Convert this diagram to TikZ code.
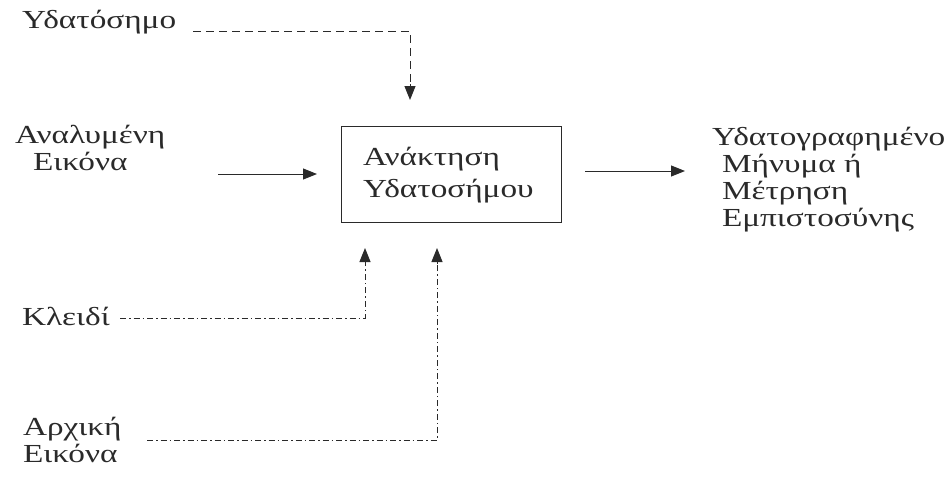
\documentclass[tikz,border=0pt]{standalone}
\usepackage{fontspec}
\setmainfont{Liberation Serif}[FakeStretch=1.28]
\usetikzlibrary{arrows.meta}
\definecolor{ink}{HTML}{2A2A2A}
\tikzset{
  lbl/.style={inner sep=0pt, outer sep=0pt, text=ink, font=\fontsize{26}{27}\selectfont, align=left},
  procbox/.style={draw=ink, line width=1.2pt, minimum width=220pt, minimum height=96pt, inner sep=0pt},
  tip/.style={-{Triangle[length=14pt,width=11pt]}},
  solidln/.style={draw=ink, fill=ink, line width=1pt, tip},
  headln/.style={draw=ink, fill=ink, line width=1pt, tip},
  dashln/.style={draw=ink, line width=1pt, dash pattern=on 8pt off 5pt},
  dotdash/.style={draw=ink, line width=1pt, dash pattern=on 6pt off 3pt on 1.5pt off 3pt},
}
\begin{document}
\begin{tikzpicture}[x=1pt,y=-1pt]
\useasboundingbox (0,0) rectangle (949,479);
% nodes
\node[lbl, anchor=base west] (wm) at (22,28) {Υδατόσημο};
\node[lbl, anchor=base west] (img) at (15,170) {Αναλυμένη\\\hspace*{18pt}Εικόνα};
\node[procbox, anchor=north west] (box) at (341,126) {};
\node[lbl, anchor=base west, font=\fontsize{26}{32}\selectfont] (boxtxt) at (363,197) {Ανάκτηση\\Υδατοσήμου};
\node[lbl, anchor=base west] (out) at (712,226) {Υδατογραφημένο\\\hspace*{10pt}Μήνυμα ή\\\hspace*{10pt}Μέτρηση\\\hspace*{10pt}Εμπιστοσύνης};
\node[lbl, anchor=base west] (key) at (22,325) {Κλειδί};
\node[lbl, anchor=base west] (orig) at (23,462) {Αρχική\\Εικόνα};
% coordinates
\coordinate (wmS) at (193,31);
\coordinate (wmC) at (410,31);
\coordinate (wmH) at (410,84);
\coordinate (wmE) at (410,100);
\coordinate (imgS) at (218,174);
\coordinate (imgE) at (317,174);
\coordinate (outS) at (585,171);
\coordinate (outE) at (685,171);
\coordinate (keyS) at (120,318);
\coordinate (keyC) at (365,318);
\coordinate (keyH) at (365,264);
\coordinate (keyE) at (365,248);
\coordinate (origS) at (147,440);
\coordinate (origC) at (437,440);
\coordinate (origH) at (437,264);
\coordinate (origE) at (437,248);
% connectors
\draw[dashln] (wmS) -- (wmC) -- (wmH);
\draw[headln] (wmH) -- (wmE);
\draw[solidln] (imgS) -- (imgE);
\draw[solidln] (outS) -- (outE);
\draw[dotdash] (keyS) -- (keyC) -- (keyH);
\draw[headln] (keyH) -- (keyE);
\draw[dotdash] (origS) -- (origC) -- (origH);
\draw[headln] (origH) -- (origE);
\end{tikzpicture}
\end{document}
